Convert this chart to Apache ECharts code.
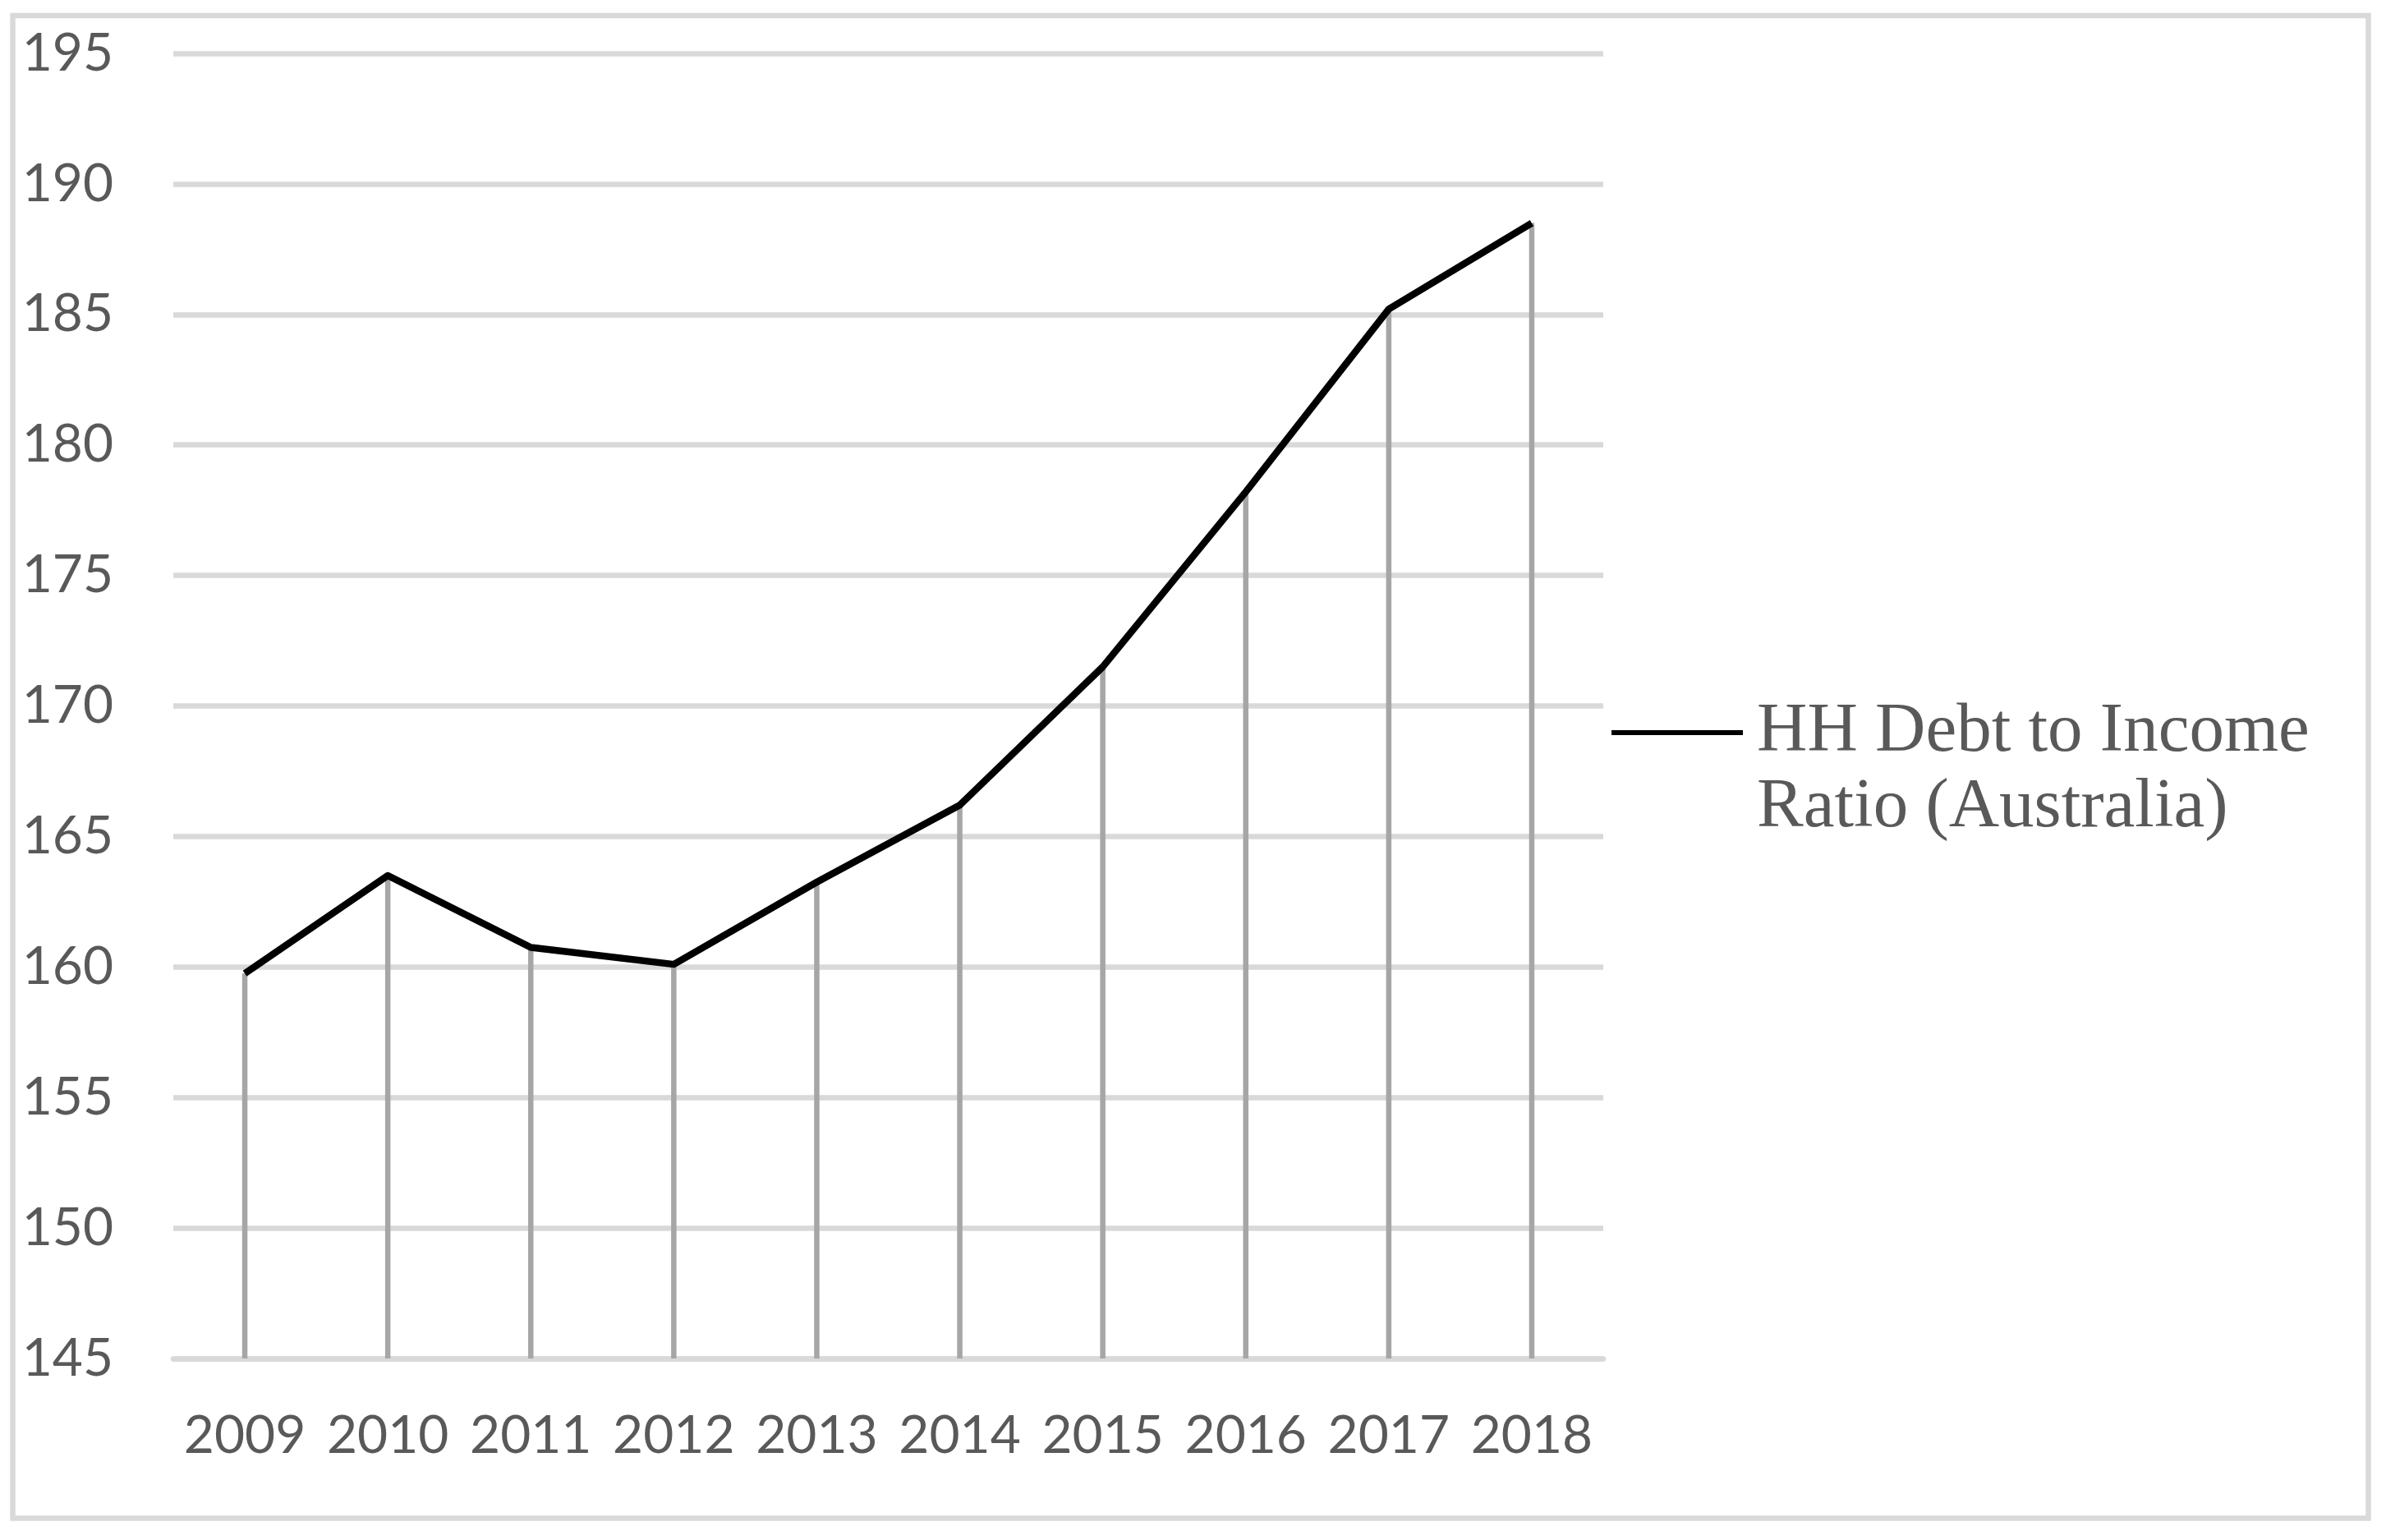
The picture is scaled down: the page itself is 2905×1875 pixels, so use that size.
<!DOCTYPE html>
<html lang="en">
<head>
    <meta charset="UTF-8">
    <title>HH Debt to Income Ratio (Australia)</title>
    <style>
        html, body {
            margin: 0;
            padding: 0;
            background: #fff;
        }
        #main {
            width: 2905px;
            height: 1875px;
        }
    </style>
    <script src="https://cdn.jsdelivr.net/npm/echarts@6/dist/echarts.min.js"></script>
</head>
<body>
<div id="main"></div>
<script>
    // data
    var years = ['2009', '2010', '2011', '2012', '2013', '2014', '2015', '2016', '2017', '2018'];
    var ratio = [159.75, 163.5, 160.75, 160.1, 163.25, 166.2, 171.5, 178.2, 185.2, 188.5];
    var seriesName = 'HH Debt to Income Ratio (Australia)';
    var yMin = 145;
    var yMax = 195;
    var yStep = 5;

    var myChart = echarts.init(document.getElementById('main'));
    var option;

    option = {
        animation: false,
        backgroundColor: '#fff',
        graphic: [
            {
                // chart area frame
                type: 'rect',
                silent: true,
                shape: {x: 15.5, y: 19, width: 2868, height: 1829.5},
                style: {fill: 'none', stroke: '#d9d9d9', lineWidth: 6.5}
            }
        ],
        grid: {
            left: 211,
            top: 65,
            width: 1741,
            height: 1589
        },
        legend: {
            data: [seriesName],
            left: 1962,
            top: 754,
            padding: 0,
            icon: 'rect',
            itemWidth: 160,
            itemHeight: 6,
            formatter: function (name) {
                // empty first line keeps the marker level with the first text line
                return '\nHH Debt to Income\nRatio (Australia)';
            },
            textStyle: {
                fontFamily: 'Liberation Serif',
                fontSize: 85,
                lineHeight: 92,
                color: '#595959',
                padding: [0, 0, 0, 12]
            }
        },
        xAxis: {
            type: 'category',
            data: years,
            boundaryGap: true,
            axisTick: {show: false},
            axisLine: {
                show: true,
                lineStyle: {color: '#d9d9d9', width: 6.5}
            },
            axisLabel: {
                interval: 0,
                margin: 62,
                fontFamily: 'Lato',
                fontSize: 64,
                color: '#595959'
            }
        },
        yAxis: {
            type: 'value',
            min: yMin,
            max: yMax,
            interval: yStep,
            axisLine: {show: false},
            axisTick: {show: false},
            splitLine: {
                lineStyle: {color: '#d9d9d9', width: 6.5}
            },
            axisLabel: {
                margin: 73,
                fontFamily: 'Lato',
                fontSize: 64,
                color: '#595959'
            }
        },
        series: [
            {
                // drop lines from each point to the axis
                name: 'drop',
                type: 'bar',
                data: ratio,
                barWidth: 6.5,
                itemStyle: {color: '#a6a6a6'},
                z: 2
            },
            {
                name: seriesName,
                type: 'line',
                data: ratio,
                symbol: 'none',
                itemStyle: {color: '#000'},
                lineStyle: {color: '#000', width: 8.5, join: 'round'},
                z: 3
            }
        ]
    };

    option && myChart.setOption(option);
</script>
</body>
</html>
